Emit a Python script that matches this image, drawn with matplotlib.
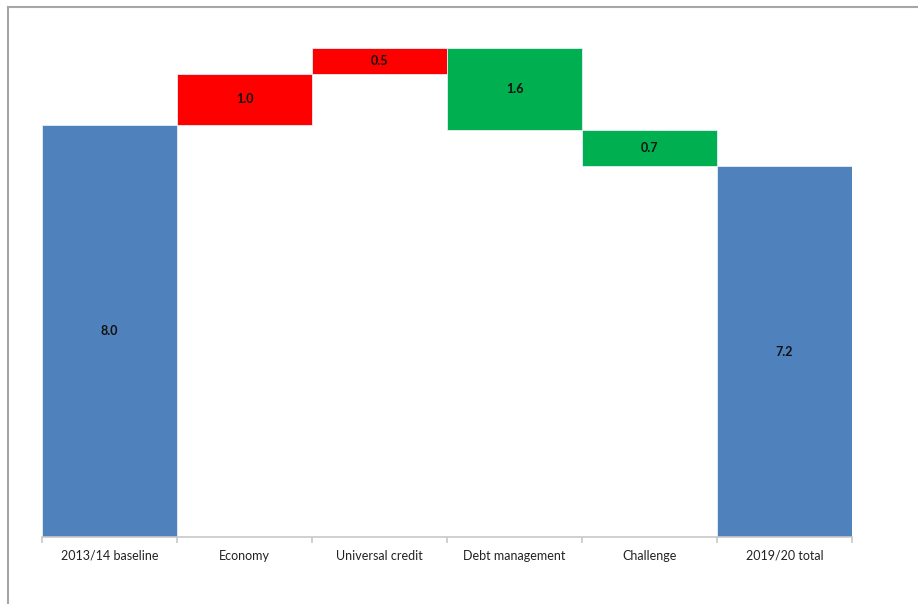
import numpy as np
import matplotlib.pyplot as plt
from matplotlib.lines import Line2D

categories = ['2013/14 baseline', 'Economy', 'Universal credit',
              'Debt management', 'Challenge', '2019/20 total']
changes = [8.0, 1.0, 0.5, -1.6, -0.7, 7.2]
kinds = ['total', 'up', 'up', 'down', 'down', 'total']

colours = {'total': '#4F81BD', 'up': '#FF0000', 'down': '#00B050'}

plt.rcParams['font.family'] = ['Lato', 'DejaVu Sans']

fig = plt.figure(figsize=(9.18, 6.04), dpi=100)
ax = fig.add_axes([42 / 918, 67 / 604, 810 / 918, 515 / 604])

x = np.arange(len(categories))
bottoms = []
heights = []
level = 0.0
for v, k in zip(changes, kinds):
    if k == 'total':
        bottoms.append(0.0)
        heights.append(v)
        level = v
    else:
        start = level
        level = level + v
        bottoms.append(min(start, level))
        heights.append(abs(v))

bars = ax.bar(x, heights, bottom=bottoms, width=1.0,
              color=[colours[k] for k in kinds],
              edgecolor='#E6EEF7', linewidth=0.6)

for xi, b, h, v in zip(x, bottoms, heights, changes):
    ax.text(xi, b + h / 2, f'{abs(v):.1f}', ha='center', va='center',
            fontsize=9, fontweight='bold', color='#111111')

ax.set_xlim(-0.5, len(categories) - 0.5)
ax.set_ylim(0, 10)
ax.set_yticks([])
for s in ['top', 'right', 'left']:
    ax.spines[s].set_visible(False)
ax.spines['bottom'].set_color('#C8C8C8')
ax.spines['bottom'].set_linewidth(1.2)

ax.set_xticks(x)
ax.set_xticklabels(categories, fontsize=9, color='#222222')
ax.tick_params(axis='x', length=0, pad=9)
ax.set_xticks(np.arange(len(categories) + 1) - 0.5, minor=True)
ax.tick_params(axis='x', which='minor', length=4, color='#C8C8C8', width=1.2)

# outer frame (top and left edges only)
fig.add_artist(Line2D([8 / 918, 1], [1 - 7 / 604, 1 - 7 / 604],
                      color='#A6A6A6', lw=1.5, transform=fig.transFigure))
fig.add_artist(Line2D([8 / 918, 8 / 918], [0, 1 - 7 / 604],
                      color='#A6A6A6', lw=1.5, transform=fig.transFigure))

fig.savefig('out.png', dpi=100)
